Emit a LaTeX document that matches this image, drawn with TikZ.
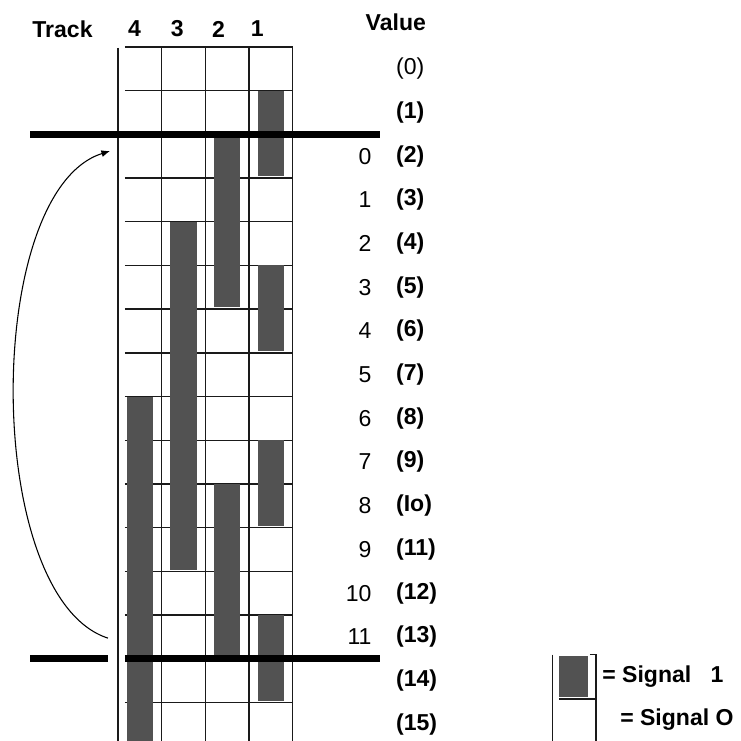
\documentclass[tikz,border=0pt]{standalone}
\usepackage{fontspec}
\setmainfont{Liberation Sans}
\usepackage{tikz}
\usetikzlibrary{arrows.meta,positioning,calc}
\definecolor{clGrid}{HTML}{1A1A1A}
\definecolor{clSignal}{HTML}{525252}
\tikzset{
  gridline/.style={line width=0.9pt, draw=clGrid},
  railline/.style={line width=4.6pt, draw=black},
  signalbar/.style={fill=clSignal},
  hdr/.style={font=\fontsize{15}{18}\selectfont\bfseries, inner sep=0pt},
  valnum/.style={font=\fontsize{15}{18}\selectfont, anchor=east, inner sep=0pt},
  valcode/.style={font=\fontsize{15}{18}\selectfont\bfseries, anchor=west, inner sep=0pt},
  legendtext/.style={font=\fontsize{15}{18}\selectfont\bfseries, anchor=west, inner sep=0pt},
  wraparrow/.style={-{Latex[length=2mm,width=1.6mm]}, line width=0.7pt},
}

\begin{document}
\begin{tikzpicture}
  \useasboundingbox (-2.70,1.075) rectangle (14.26,-15.885);
  % cells of the four tracks
  \draw[gridline] (0,-0.02) -- (0,-15.885);
  \foreach \r in {0,...,15} \draw[gridline] (0.16,-\r) -- (4,-\r);
  \foreach \c in {1,...,4} \draw[gridline] (\c,0) -- (\c,-15.885);
  % signal 1 on each track
  \foreach \a/\b in {1/2,5/6,9/10,13/14} \fill[signalbar] (3.2,-\a) rectangle (3.8,{-\b-0.96});
  \foreach \a/\b in {2/5,10/13} \fill[signalbar] (2.2,-\a) rectangle (2.8,{-\b-0.96});
  \fill[signalbar] (1.2,-4) rectangle (1.8,-11.96);
  \fill[signalbar] (0.2,-8) rectangle (0.8,-15.885);
  % start and end marks
  \draw[railline] (-2.01,-2) -- (6.0,-2);
  \draw[railline] (-2.01,-14) -- (-0.23,-14);
  \draw[railline] (0.16,-14) -- (6.0,-14);
  % headings
  \node[hdr] (trackLbl) at (-1.27,0.41) {Track};
  \node[hdr] (trk4) at (0.38,0.41) {4};
  \node[hdr] (trk3) at (1.36,0.41) {3};
  \node[hdr] (trk2) at (2.30,0.41) {2};
  \node[hdr] (trk1) at (3.19,0.41) {1};
  \node[hdr] (valueLbl) at (6.36,0.56) {Value};
  % values
  \foreach \v in {0,...,11} \node[valnum] (num\v) at (5.81,{-\v-2.5}) {\v};
  \node[valcode, font=\fontsize{15}{18}\selectfont] (code0) at (6.36,-0.5) {(0)};
  \foreach \k in {1,2,3,4,5,6,7,8,9,11,12,13,14,15}
    \node[valcode] (code\k) at (6.36,{-\k-0.5}) {(\k)};
  \node[valcode] (code10) at (6.36,-10.5) {(Io)};
  % wrap round
  \coordinate (wrapFrom) at (-0.23,-13.53);
  \coordinate (wrapTo) at (-0.18,-2.38);
  \draw[wraparrow] (wrapFrom) .. controls +(-2.87,0.93) and +(-2.92,-0.92) .. (wrapTo);
  % legend
  \draw[gridline] (9.95,-13.91) -- (9.95,-15.885);
  \fill[signalbar] (10.09,-13.93) rectangle (10.76,-14.88);
  \draw[gridline] (10.09,-14.92) -- (10.94,-14.92);
  \draw[gridline] (10.80,-13.91) -- (10.94,-13.91) -- (10.94,-15.885);
  \node[legendtext] (sig1) at (11.08,-14.42) {= Signal\ \ \ 1};
  \node[legendtext] (sig0) at (11.49,-15.40) {= Signal O};
\end{tikzpicture}
\end{document}
